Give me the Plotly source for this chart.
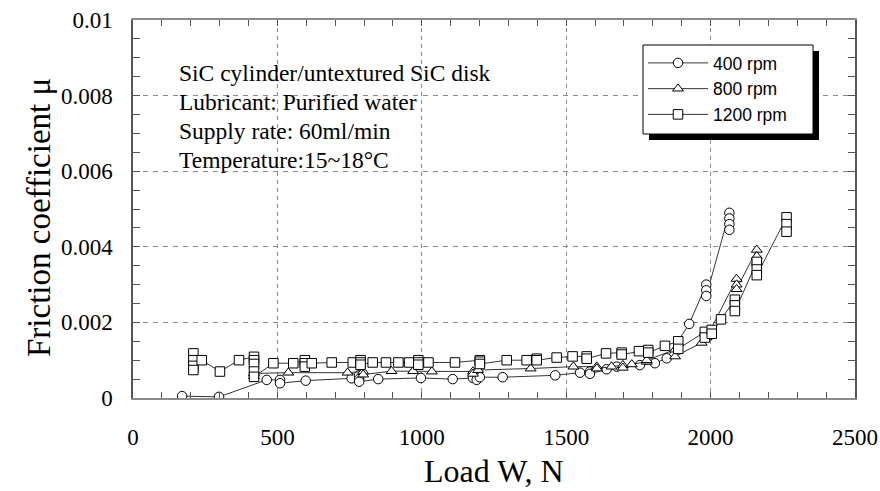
import plotly.graph_objects as go

# ---- data ----
load_400 = [170, 298, 463, 509, 509, 598, 757, 783, 783, 783, 849, 997, 1107, 1177, 1190, 1201,
            1280, 1462, 1548, 1582, 1582, 1640, 1675, 1755, 1807, 1848, 1926,
            1985, 1985, 1985, 2065, 2065, 2065, 2065]
mu_400 = [0.00005, 0.00003, 0.00048, 0.00048, 0.00039, 0.00046, 0.00052, 0.00060, 0.00050, 0.00043,
          0.00050, 0.00053, 0.00050, 0.00053, 0.00048, 0.00055,
          0.00055, 0.00060, 0.00067, 0.00070, 0.00064, 0.00076, 0.00083, 0.00087, 0.00092, 0.00105,
          0.00196, 0.00300, 0.00285, 0.00270, 0.00490, 0.00475, 0.00460, 0.00445]

load_800 = [419, 419, 538, 743, 797, 797, 895, 970, 1035, 1177, 1177, 1195, 1377, 1525, 1606, 1606,
            1657, 1696, 1696, 1727, 1779, 1779, 1877, 1877, 1969, 1986,
            2090, 2090, 2090, 2160, 2160, 2160]
mu_800 = [0.00058, 0.00065, 0.00067, 0.00067, 0.00070, 0.00062, 0.00071, 0.00071, 0.00070,
          0.00070, 0.00064, 0.00074, 0.00078, 0.00083, 0.00083, 0.00078,
          0.00083, 0.00087, 0.00080, 0.00089, 0.00096, 0.00100, 0.00128, 0.00110, 0.00146, 0.00160,
          0.00315, 0.00300, 0.00288, 0.00392, 0.00375, 0.00360]

load_1200 = [209, 209, 209, 209, 238, 301, 367, 419, 419, 419, 419, 419, 486, 555, 595, 595, 595,
             619, 688, 761, 788, 788, 788, 830, 876, 919, 956, 988, 988, 988, 1023, 1115,
             1201, 1201, 1201, 1294, 1363, 1398, 1398, 1467, 1522, 1571, 1571, 1638, 1692, 1692,
             1752, 1784, 1784, 1842, 1888, 1888, 1980, 1980, 2004, 2004, 2036,
             2084, 2084, 2084, 2160, 2160, 2160, 2263, 2263, 2263]
mu_1200 = [0.00118, 0.00100, 0.00085, 0.00074, 0.00100, 0.00070, 0.00100,
           0.00109, 0.00100, 0.00090, 0.00070, 0.00056, 0.00092, 0.00092,
           0.00100, 0.00092, 0.00083, 0.00092, 0.00094, 0.00094, 0.00100, 0.00094, 0.00088,
           0.00094, 0.00094, 0.00094, 0.00094, 0.00100, 0.00094, 0.00088, 0.00094, 0.00094,
           0.00100, 0.00096, 0.00090, 0.00100, 0.00100, 0.00104, 0.00100, 0.00107, 0.00110,
           0.00110, 0.00104, 0.00118, 0.00120, 0.00115, 0.00124, 0.00127, 0.00120, 0.00138,
           0.00150, 0.00130, 0.00175, 0.00160, 0.00180, 0.00170, 0.00208,
           0.00260, 0.00245, 0.00230, 0.00360, 0.00340, 0.00325, 0.00478, 0.00460, 0.00440]

series = [
    ("400 rpm", load_400, mu_400, "circle"),
    ("800 rpm", load_800, mu_800, "triangle-up"),
    ("1200 rpm", load_1200, mu_1200, "square"),
]

info_lines = ["SiC cylinder/untextured SiC disk",
              "Lubricant: Purified water",
              "Supply rate: 60ml/min",
              "Temperature:15~18°C"]

x_ticks = [0, 500, 1000, 1500, 2000, 2500]
x_title = "Load W, N"
y_title = "Friction coefficient μ"

# ---- figure ----
fig = go.Figure()
for name, xs, ys, sym in series:
    fig.add_trace(go.Scatter(
        x=xs, y=ys, name=name, mode="lines+markers",
        line=dict(color="black", width=0.8),
        marker=dict(symbol=sym, size=9.5, color="white",
                    line=dict(color="black", width=1)),
    ))

serif = "Liberation Serif, Times New Roman, serif"
grid_col = "#8a8a8a"

L, R, T, B = 133, 855, 20, 398
W, H = R - L, B - T

def px(x):
    return (x - L) / W

def py(y):
    return (B - y) / H

fig.update_layout(
    width=880, height=491,
    margin=dict(l=L, r=880 - R, t=T, b=491 - B),
    paper_bgcolor="white", plot_bgcolor="white",
    showlegend=True,
    legend=dict(
        x=px(643), y=py(45), xanchor="left", yanchor="top",
        bgcolor="rgba(0,0,0,0)", borderwidth=0,
        font=dict(family="Liberation Sans, Arial, sans-serif", size=17.5, color="black"),
        itemwidth=60, tracegroupgap=0,
    ),
    xaxis=dict(
        range=[0, 2500], tickvals=x_ticks, automargin=False,
        ticks="inside", ticklen=6, tickcolor="#555",
        minor=dict(dtick=100, ticks="inside", ticklen=6, tickcolor="#555", showgrid=False),
        showline=True, linecolor="#8c8c8c", linewidth=2, mirror="ticks",
        showgrid=True, gridcolor=grid_col, griddash="4px,4px", gridwidth=1,
        zeroline=False,
        tickfont=dict(family=serif, size=23, color="black"),
        ticklabelstandoff=17,
    ),
    yaxis=dict(
        range=[0, 0.01], dtick=0.002, tick0=0, automargin=False,
        ticks="inside", ticklen=7, tickcolor="#555",
        minor=dict(dtick=0.0005, ticks="inside", ticklen=7, tickcolor="#555", showgrid=False),
        showline=True, linecolor="#555", linewidth=1.5, mirror="ticks",
        showgrid=True, gridcolor=grid_col, griddash="5px,5px", gridwidth=1,
        zeroline=False,
        tickfont=dict(family=serif, size=23, color="black"),
        ticklabelstandoff=14,
    ),
)

# axis titles
fig.add_annotation(text=x_title, xref="paper", yref="paper", x=px(494), y=py(471),
                   xanchor="center", yanchor="middle", showarrow=False,
                   font=dict(family=serif, size=32, color="black"))
fig.add_annotation(text=y_title, xref="paper", yref="paper", x=px(39), y=py(218),
                   xanchor="center", yanchor="middle", showarrow=False, textangle=-90,
                   font=dict(family=serif, size=33, color="black"))

# legend frame with drop shadow (legend itself is transparent and drawn on top)
fig.add_shape(type="rect", xref="paper", yref="paper",
              x0=px(649), x1=px(819), y0=py(140), y1=py(51),
              fillcolor="black", line=dict(color="black", width=0), layer="above")
fig.add_shape(type="rect", xref="paper", yref="paper",
              x0=px(643), x1=px(813), y0=py(134), y1=py(45),
              fillcolor="white", line=dict(color="black", width=1), layer="above")

line_y = [73, 102, 131, 160]
for txt, yy in zip(info_lines, line_y):
    fig.add_annotation(text=txt, xref="paper", yref="paper",
                       x=px(177), y=py(yy),
                       xanchor="left", yanchor="middle", showarrow=False,
                       font=dict(family=serif, size=23.5, color="black"))

fig.write_html("out.html")
